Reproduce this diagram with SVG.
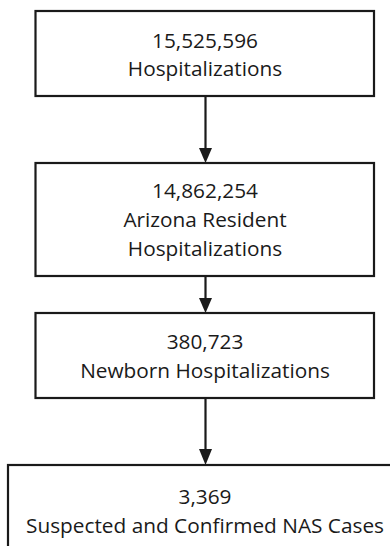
<svg xmlns="http://www.w3.org/2000/svg" width="390" height="546" viewBox="0 0 390 546">
<style>
.box{fill:#fff;stroke:#1a1a1a;stroke-width:2.2}
.t{font-family:"Open Sans","Liberation Sans",sans-serif;font-size:20.8px;fill:#1a1a1a;text-anchor:middle}
.c{stroke:#1a1a1a;stroke-width:2.2;fill:none}
.ah{fill:#1a1a1a}
</style>
<rect width="390" height="546" fill="#fff"/>
<g id="connectors">
<line class="c" x1="205.5" y1="96" x2="205.5" y2="150"/>
<polygon class="ah" points="199,148 212,148 205.5,163"/>
<line class="c" x1="205.5" y1="276" x2="205.5" y2="300"/>
<polygon class="ah" points="199,298 212,298 205.5,313"/>
<line class="c" x1="205.5" y1="398" x2="205.5" y2="452"/>
<polygon class="ah" points="199,449 212,449 205.5,465"/>
</g>
<g id="n1">
<rect class="box" x="35.5" y="11" width="338.5" height="85"/>
<text class="t" x="205" y="48">15,525,596</text>
<text class="t" x="205" y="76">Hospitalizations</text>
</g>
<g id="n2">
<rect class="box" x="35.5" y="163" width="338.5" height="113"/>
<text class="t" x="205" y="198">14,862,254</text>
<text class="t" x="205" y="227">Arizona Resident</text>
<text class="t" x="205" y="256">Hospitalizations</text>
</g>
<g id="n3">
<rect class="box" x="35.5" y="313" width="338.5" height="85"/>
<text class="t" x="205" y="349">380,723</text>
<text class="t" x="205" y="378">Newborn Hospitalizations</text>
</g>
<g id="n4">
<rect class="box" x="8" y="465" width="394" height="95"/>
<text class="t" x="205" y="504">3,369</text>
<text class="t" x="205" y="533">Suspected and Confirmed NAS Cases</text>
</g>
</svg>
